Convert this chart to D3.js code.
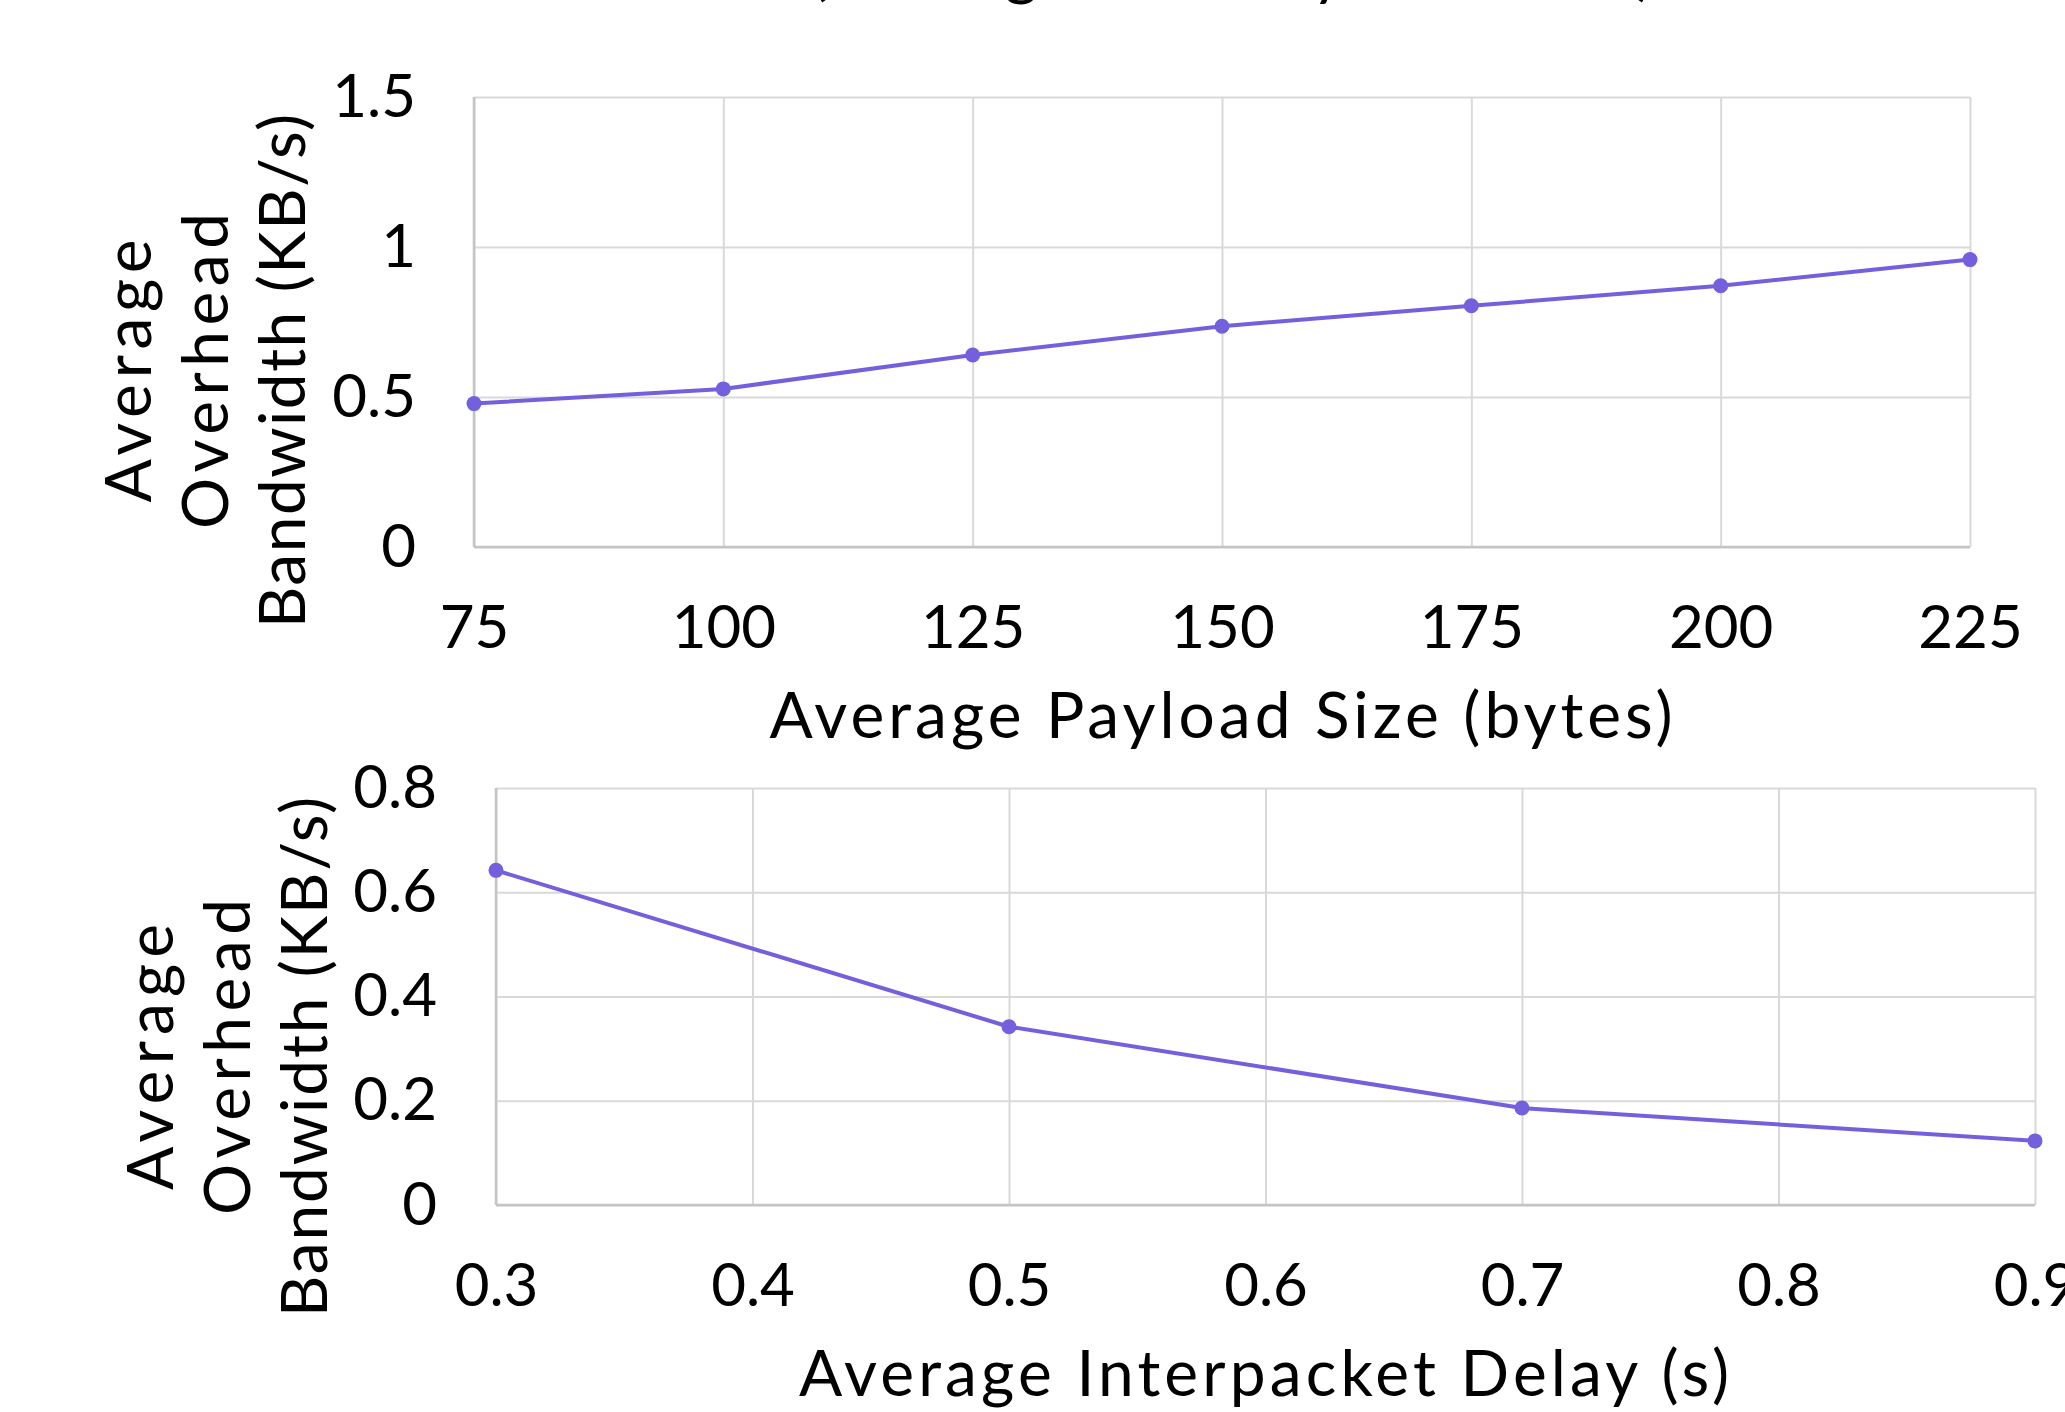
<!DOCTYPE html>
<html>
<head>
<meta charset="utf-8">
<script src="https://cdn.jsdelivr.net/npm/d3@7"></script>
<style>
  html, body { margin: 0; padding: 0; background: #ffffff; }
  svg { display: block; }
  text { font-family: Lato, "Open Sans", sans-serif; fill: #000; }
</style>
</head>
<body>
<svg id="chart" width="2065" height="1412"></svg>
<script>
// ---- Data ----
const titleText = "(Average of Every Ten Runs)";

const payloadSizes = [75, 100, 125, 150, 175, 200, 225];
const payloadOverhead = [0.478, 0.527, 0.640, 0.736, 0.804, 0.871, 0.958];
const payloadXTicks = [75, 100, 125, 150, 175, 200, 225];
const payloadYTicks = [0, 0.5, 1, 1.5];
const payloadXLabel = "Average Payload Size (bytes)";

const delays = [0.3, 0.5, 0.7, 0.9];
const delayOverhead = [0.642, 0.342, 0.186, 0.123];
const delayXTicks = [0.3, 0.4, 0.5, 0.6, 0.7, 0.8, 0.9];
const delayYTicks = [0, 0.2, 0.4, 0.6, 0.8];
const delayXLabel = "Average Interpacket Delay (s)";

const yLabelLines = ["Average", "Overhead", "Bandwidth (KB/s)"];

// ---- Styles ----
const lineColor = "#7360dc";
const gridColor = "#d9d9d9";
const axisColor = "#c4c4c4";
const tickFont = 60;
const labelFont = 64;

const svg = d3.select("#chart");
svg.append("rect").attr("width", 2065).attr("height", 1412).attr("fill", "#fff");

// Title (mostly clipped off the top edge, as in the reference)
svg.append("text")
  .attr("x", 1232).attr("y", -7)
  .attr("text-anchor", "middle")
  .attr("font-size", labelFont)
  .attr("textLength", 843).attr("lengthAdjust", "spacing")
  .text(titleText);

function drawPanel(cfg) {
  const x = d3.scaleLinear().domain(cfg.xDomain).range([cfg.left, cfg.right]);
  const y = d3.scaleLinear().domain(cfg.yDomain).range([cfg.bottom, cfg.top]);
  const g = svg.append("g");

  // Horizontal gridlines
  g.append("g")
    .attr("transform", `translate(${cfg.left},0)`)
    .call(d3.axisLeft(y).tickValues(cfg.yTicks).tickSize(-(cfg.right - cfg.left)).tickFormat(""))
    .call(s => s.select(".domain").remove())
    .call(s => s.selectAll(".tick line").attr("stroke", gridColor).attr("stroke-width", 2));

  // Vertical gridlines
  g.append("g")
    .attr("transform", `translate(0,${cfg.bottom})`)
    .call(d3.axisBottom(x).tickValues(cfg.xTicks).tickSize(-(cfg.bottom - cfg.top)).tickFormat(""))
    .call(s => s.select(".domain").remove())
    .call(s => s.selectAll(".tick line").attr("stroke", gridColor).attr("stroke-width", 2));

  // Axis lines
  g.append("line")
    .attr("x1", cfg.left).attr("x2", cfg.right)
    .attr("y1", cfg.bottom).attr("y2", cfg.bottom)
    .attr("stroke", axisColor).attr("stroke-width", 2.5);
  g.append("line")
    .attr("x1", cfg.left).attr("x2", cfg.left)
    .attr("y1", cfg.top).attr("y2", cfg.bottom)
    .attr("stroke", axisColor).attr("stroke-width", 2.5);

  // Tick labels
  g.append("g")
    .attr("transform", `translate(${cfg.left},0)`)
    .call(d3.axisLeft(y).tickValues(cfg.yTicks).tickSize(0).tickPadding(cfg.yPad).tickFormat(d => String(d)))
    .call(s => s.select(".domain").remove())
    .call(s => s.selectAll("text").attr("font-size", tickFont).attr("font-family", "Lato").attr("fill", "#000"));

  g.append("g")
    .attr("transform", `translate(0,${cfg.bottom})`)
    .call(d3.axisBottom(x).tickValues(cfg.xTicks).tickSize(0).tickPadding(cfg.xPad).tickFormat(d => String(d)))
    .call(s => s.select(".domain").remove())
    .call(s => s.selectAll("text").attr("font-size", tickFont).attr("font-family", "Lato").attr("fill", "#000"));

  // Line + markers
  const pts = cfg.xs.map((v, i) => [v, cfg.ys[i]]);
  g.append("path")
    .datum(pts)
    .attr("fill", "none")
    .attr("stroke", lineColor)
    .attr("stroke-width", 4)
    .attr("stroke-linejoin", "round")
    .attr("d", d3.line().x(d => x(d[0])).y(d => y(d[1])));
  g.selectAll("circle.pt")
    .data(pts)
    .join("circle")
    .attr("class", "pt")
    .attr("cx", d => x(d[0])).attr("cy", d => y(d[1]))
    .attr("r", 7.5)
    .attr("fill", lineColor);

  // X axis title
  g.append("text")
    .attr("x", cfg.xTitleX).attr("y", cfg.xTitleY)
    .attr("text-anchor", "middle")
    .attr("font-size", labelFont)
    .attr("textLength", cfg.xTitleLen).attr("lengthAdjust", "spacing")
    .text(cfg.xLabel);

  // Y axis title (three rotated lines)
  yLabelLines.forEach((t, i) => {
    g.append("text")
      .attr("transform", `translate(${cfg.yTitleX + i * cfg.yLineGap},${cfg.yTitleY}) rotate(-90)`)
      .attr("text-anchor", "middle")
      .attr("font-size", labelFont)
      .attr("textLength", cfg.yTitleLens[i]).attr("lengthAdjust", "spacing")
      .text(t);
  });
}

drawPanel({
  xDomain: [75, 225], yDomain: [0, 1.5],
  left: 474, right: 1970, top: 97, bottom: 547,
  xTicks: payloadXTicks, yTicks: payloadYTicks,
  xs: payloadSizes, ys: payloadOverhead,
  yPad: 58, xPad: 58,
  xLabel: payloadXLabel, xTitleX: 1221, xTitleY: 738, xTitleLen: 903,
  yTitleX: 151, yTitleY: 371, yLineGap: 77, yTitleLens: [263, 316, 514]
});

drawPanel({
  xDomain: [0.3, 0.9], yDomain: [0, 0.8],
  left: 496, right: 2035, top: 788, bottom: 1205,
  xTicks: delayXTicks, yTicks: delayYTicks,
  xs: delays, ys: delayOverhead,
  yPad: 59, xPad: 58,
  xLabel: delayXLabel, xTitleX: 1264, xTitleY: 1396, xTitleLen: 930,
  yTitleX: 173, yTitleY: 1057, yLineGap: 77, yTitleLens: [266, 316, 520]
});
</script>
</body>
</html>
